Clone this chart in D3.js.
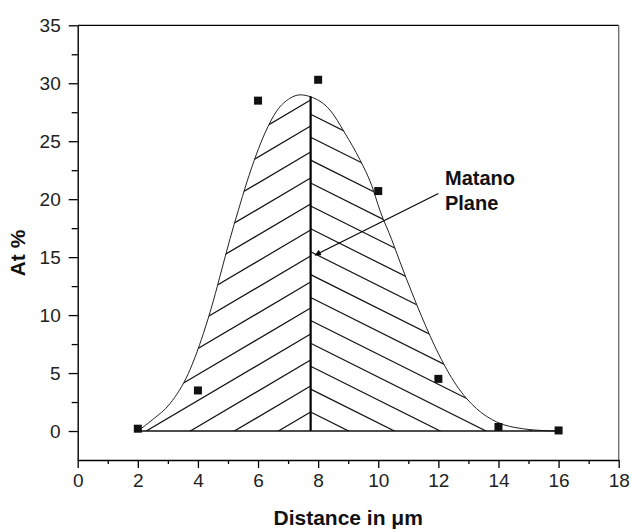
<!DOCTYPE html>
<html>
<head>
<meta charset="utf-8">
<script src="https://cdn.jsdelivr.net/npm/d3@7"></script>
<style>
  body { margin: 0; background: #fff; }
  svg { display: block; font-family: "Liberation Sans", Arial, sans-serif; }
</style>
</head>
<body>
<script>
// measured points (Distance in um, At %)
var pointX = [2, 4, 6, 8, 10, 12, 14, 16];
var pointY = [0.2, 3.5, 28.5, 30.3, 20.7, 4.5, 0.35, 0.05];

// fitted profile
var curveX = [2, 2.5, 3.07, 3.68, 4.18, 4.51, 4.79, 5.07, 5.34, 5.62, 5.95, 6.23, 6.62, 7.06, 7.4,
              7.73, 8.39, 8.89, 9.39, 9.78, 10.06, 10.45, 10.75, 11.11, 11.44, 11.94, 12.6, 13.27, 13.94, 14.8, 15.7, 16];
var curveY = [0, 1.0, 2.36, 4.96, 8.4, 11.2, 13.9, 16.6, 19.0, 21.4, 23.9, 25.7, 27.6, 28.7, 29.0,
              28.85, 27.7, 25.7, 23.4, 21.2, 19.0, 16.5, 14.4, 12.0, 9.9, 7.0, 3.95, 1.93, 0.78, 0.2, 0.02, 0];

var matanoX = 7.75;

var xTicks = [0, 2, 4, 6, 8, 10, 12, 14, 16, 18];
var xMinor = [1, 3, 5, 7, 9, 11, 13, 15, 17];
var yTicks = [0, 5, 10, 15, 20, 25, 30, 35];
var yMinor = [2.5, 7.5, 12.5, 17.5, 22.5, 27.5, 32.5];

var W = 633, H = 529;
var margin = {top: 25.3, right: 14.3, bottom: 69, left: 77.7};
var width = W - margin.left - margin.right,
    height = H - margin.top - margin.bottom;

var svg = d3.select('body').append('svg').attr('width', W).attr('height', H);
var g = svg.append('g').attr('transform', 'translate(' + margin.left + ',' + margin.top + ')');

var x = d3.scaleLinear().domain([0, 18]).range([0, width]);
var y = d3.scaleLinear().domain([-2.5, 35]).range([height, 0]);

// clip paths for the two hatched halves
var areaPts = curveX.map(function(d, i){ return [d, curveY[i]]; });
var area = d3.area()
    .x(function(d){ return x(d[0]); })
    .y0(y(0))
    .y1(function(d){ return y(d[1]); })
    .curve(d3.curveMonotoneX);

var defs = svg.append('defs');
defs.append('clipPath').attr('id', 'clipLeft')
    .append('path').attr('d', area(areaPts.filter(function(d){ return d[0] <= matanoX; }).concat([[matanoX, 28.85]])));
defs.append('clipPath').attr('id', 'clipRight')
    .append('path').attr('d', area([[matanoX, 28.85]].concat(areaPts.filter(function(d){ return d[0] > matanoX; }))));

// hatching
var xm = x(matanoX), y0 = y(0);
var hatchL = g.append('g').attr('clip-path', 'url(#clipLeft)');
for (var k = 0; k < 14; k++) {
    var yy = y0 - 19 - k * 26;
    hatchL.append('line')
        .attr('x1', xm).attr('y1', yy)
        .attr('x2', xm - 400).attr('y2', yy + 400 * 0.59)
        .attr('stroke', '#111').attr('stroke-width', 1.2);
}
var hatchR = g.append('g').attr('clip-path', 'url(#clipRight)');
for (var j = 0; j < 15; j++) {
    var yr = y0 - 19 - j * 22.9;
    hatchR.append('line')
        .attr('x1', xm).attr('y1', yr)
        .attr('x2', xm + 400).attr('y2', yr + 400 * 0.5)
        .attr('stroke', '#111').attr('stroke-width', 1.2);
}

// profile curve
var line = d3.line()
    .x(function(d){ return x(d[0]); })
    .y(function(d){ return y(d[1]); })
    .curve(d3.curveMonotoneX);
g.append('path').attr('d', line(areaPts))
    .attr('fill', 'none').attr('stroke', '#222').attr('stroke-width', 1);

// baseline
g.append('line')
    .attr('x1', x(2)).attr('x2', x(16)).attr('y1', y0).attr('y2', y0)
    .attr('stroke', '#111').attr('stroke-width', 1.4);

// Matano plane
g.append('line')
    .attr('x1', xm).attr('x2', xm).attr('y1', y0).attr('y2', y(28.85))
    .attr('stroke', '#000').attr('stroke-width', 2.2);

// data squares
g.selectAll('rect.pt').data(pointX).enter().append('rect')
    .attr('class', 'pt')
    .attr('x', function(d){ return x(d) - 4; })
    .attr('y', function(d, i){ return y(pointY[i]) - 4; })
    .attr('width', 8).attr('height', 8)
    .attr('fill', '#111');

// frame top / right
g.append('line').attr('x1', 0).attr('x2', width).attr('y1', 0).attr('y2', 0)
    .attr('stroke', '#000').attr('stroke-width', 1.3);
g.append('line').attr('x1', width).attr('x2', width).attr('y1', 0).attr('y2', height)
    .attr('stroke', '#666').attr('stroke-width', 1.3);

// axes
g.append('g').attr('transform', 'translate(0,' + height + ')')
    .call(d3.axisBottom(x).tickValues(xTicks).tickSize(8).tickSizeOuter(0).tickPadding(6));
g.append('g').attr('transform', 'translate(0,' + height + ')')
    .call(d3.axisBottom(x).tickValues(xMinor).tickSize(4).tickFormat(''))
    .select('.domain').remove();
g.append('g')
    .call(d3.axisLeft(y).tickValues(yTicks).tickSize(9).tickSizeOuter(0).tickPadding(8));
g.append('g')
    .call(d3.axisLeft(y).tickValues(yMinor).tickSize(6).tickFormat(''))
    .select('.domain').remove();

g.selectAll('.domain').attr('stroke', '#000').attr('stroke-width', 1.4);
g.selectAll('.tick line').attr('stroke', '#000').attr('stroke-width', 1.3);
g.selectAll('.tick text').attr('font-size', 19).attr('fill', '#222')
    .attr('font-family', '"Liberation Sans", Arial, sans-serif');

// axis titles
svg.append('text')
    .attr('x', margin.left + x(9)).attr('y', 525)
    .attr('text-anchor', 'middle')
    .attr('font-size', 21).attr('font-weight', 'bold').attr('fill', '#111')
    .text('Distance in μm');
svg.append('text')
    .attr('transform', 'translate(25,253) rotate(-90)')
    .attr('text-anchor', 'middle')
    .attr('font-size', 21).attr('font-weight', 'bold').attr('fill', '#111')
    .text('At %');

// annotation
defs.append('marker').attr('id', 'arrow')
    .attr('viewBox', '0 0 10 10').attr('refX', 10).attr('refY', 5)
    .attr('markerWidth', 8).attr('markerHeight', 6).attr('markerUnits', 'userSpaceOnUse')
    .attr('orient', 'auto')
    .append('path').attr('d', 'M0,0 L10,5 L0,10 Z').attr('fill', '#000');
g.append('line')
    .attr('x1', x(12.0)).attr('y1', y(20.5))
    .attr('x2', x(7.89)).attr('y2', y(15.17))
    .attr('stroke', '#000').attr('stroke-width', 1.1)
    .attr('marker-end', 'url(#arrow)');
var ann = g.append('text')
    .attr('font-size', 20).attr('font-weight', 'bold').attr('fill', '#111');
ann.append('tspan').attr('x', x(12.22)).attr('y', y(21.2)).text('Matano');
ann.append('tspan').attr('x', x(12.22)).attr('y', y(19.05)).text('Plane');
</script>
</body>
</html>
